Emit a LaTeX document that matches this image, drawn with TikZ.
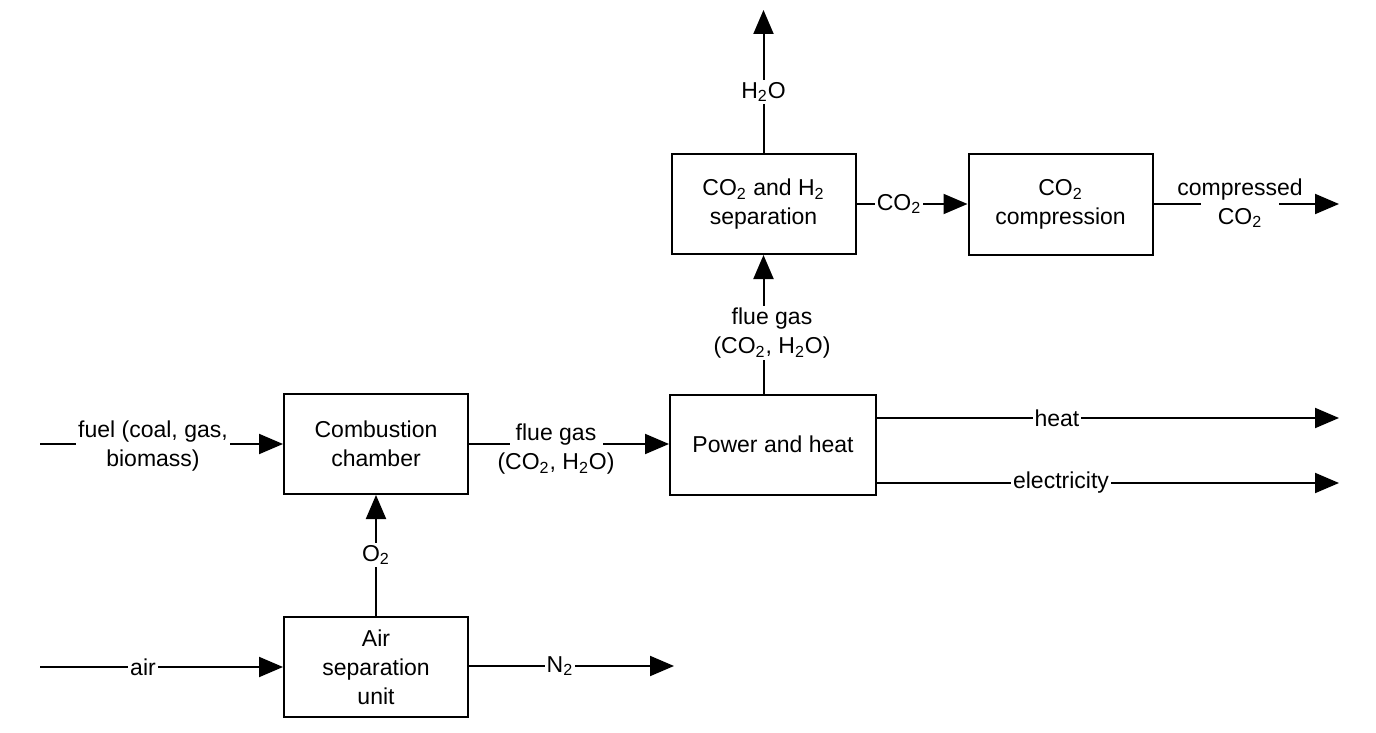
\documentclass[tikz,border=0pt]{standalone}
\usepackage{fontspec}
\setmainfont{Liberation Sans}
\usetikzlibrary{arrows.meta}
\newcommand{\sub}[1]{\textsubscript{#1}}
\begin{document}
\begin{tikzpicture}[x=0.5pt,y=-0.5pt,
  txt/.style={font=\fontsize{11.5}{14.5}\selectfont},
  box/.style={txt, draw, line width=1pt, minimum width=92pt, minimum height=50pt,
              align=center, inner sep=2pt},
  flow/.style={line width=1pt, -{Triangle[length=12pt,width=10pt]}},
  lbl/.style={txt, fill=white, inner sep=1pt, align=center}]
\useasboundingbox[fill=white] (0,0) rectangle (1376,733);

% process blocks
\node[box] (cc)  at (376,444) {Combustion\\chamber};
\node[box] (asu) at (376,667) {Air\\separation\\unit};
\node[box, minimum width=103pt] (pwr) at (773,444.5) {Power and heat};
\node[box] (sep) at (763.5,204) {CO\sub{2} and H\sub{2}\\separation};
\node[box] (cmp) at (1060.5,204.5) {CO\sub{2}\\compression};

% free ends of the streams
\coordinate (fuelin) at (40,444);
\coordinate (airin)  at (40,667);
\coordinate (n2out)  at (674,666);
\coordinate (h2oout) at (763.5,10);
\coordinate (co2out) at (1339,204);
\coordinate (heatout) at (1339,418);
\coordinate (elout)  at (1339,483);

% streams
\draw[flow] (fuelin) -- (cc.west);
\draw[flow] (airin) -- (asu.west);
\draw[flow] (asu.north) -- (cc.south);
\draw[flow] (asu.east |- n2out) -- (n2out);
\draw[flow] (cc.east) -- (pwr.west |- cc.east);
\draw[flow] (sep.south |- pwr.north) -- (sep.south);
\draw[flow] (sep.north) -- (h2oout);
\draw[flow] (sep.east) -- (cmp.west |- sep.east);
\draw[flow] (cmp.east |- co2out) -- (co2out);
\draw[flow] (pwr.east |- heatout) -- (heatout);
\draw[flow] (pwr.east |- elout) -- (elout);

% stream labels
\node[lbl] (lfuel) at (153,446) {fuel (coal, gas,\\biomass)};
\node[lbl] (lair)  at (143,667) {air};
\node[lbl] (lo2)   at (376,555) {O\sub{2}};
\node[lbl] (ln2)   at (560,666) {N\sub{2}};
\node[lbl, inner xsep=-6pt] (lflue1) at (556,449) {flue gas\\(CO\sub{2}, H\sub{2}O)};
\node[lbl] (lflue2) at (772,333) {flue gas\\(CO\sub{2}, H\sub{2}O)};
\node[lbl] (lh2o)  at (763.5,92) {H\sub{2}O};
\node[lbl] (lco2)  at (899,204) {CO\sub{2}};
\node[lbl, inner xsep=-12pt] (lcomp) at (1240,203) {compressed\\CO\sub{2}};
\node[lbl] (lheat) at (1057,418) {heat};
\node[lbl] (lel)   at (1061,483) {electricity};
\end{tikzpicture}
\end{document}
